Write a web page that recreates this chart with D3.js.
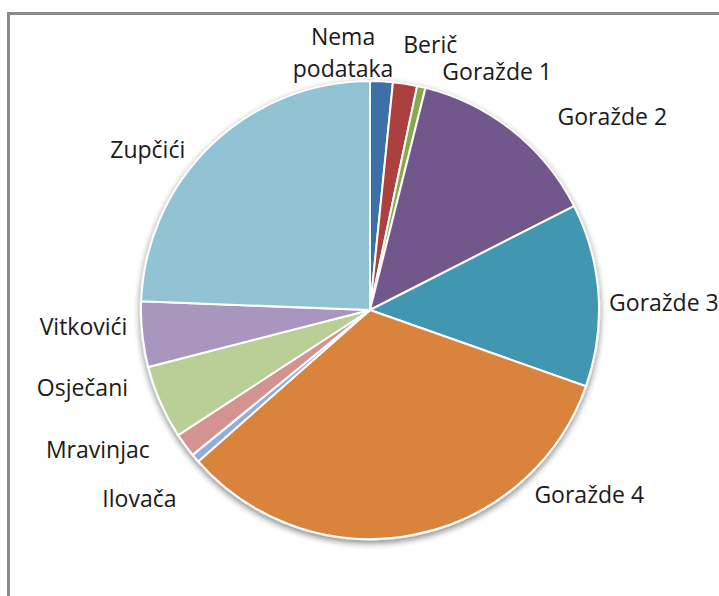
<!DOCTYPE html>
<html>
<head>
<meta charset="utf-8">
<script src="https://cdn.jsdelivr.net/npm/d3@7"></script>
<style>
  html, body { margin: 0; padding: 0; background: #fff; }
  svg { display: block; }
</style>
</head>
<body>
<div id="chart"></div>
<script>
const categories = [
  "Nema podataka", "Berič", "Goražde 1", "Goražde 2", "Goražde 3", "Goražde 4",
  "Ilovača", "Mravinjac", "Osječani", "Vitkovići", "Zupčići"
];
const values = [1.6, 1.7, 0.6, 13.6, 12.9, 33.1, 0.6, 1.7, 5.2, 4.6, 24.4];
const colors = [
  "#3d6fa8", "#ab403e", "#87aa48", "#72578d", "#4197af", "#da833c",
  "#93aedb", "#d39391", "#bacf96", "#a896be", "#92c3d4"
];

// label placement around the pie (degrees clockwise from 12 o'clock, distance from centre)
const labelAngle = [354, 12.8, 28.1, 51.4, 88.6, 130.2, 230.7, 242.8, 254.8, 266.6, 305.8];
const labelDist = [258, 272, 270, 310, 294, 287, 298, 306, 298, 287, 274];

const width = 719;
const height = 596;
const cx = 370;
const cy = 310;
const radius = 229;

const svg = d3.select("#chart")
  .append("svg")
  .attr("width", width)
  .attr("height", height);

// chart frame
svg.append("rect")
  .attr("x", 8.5)
  .attr("y", 13.5)
  .attr("width", width + 20)
  .attr("height", height + 20)
  .attr("fill", "#fff")
  .attr("stroke", "#8a8a8a")
  .attr("stroke-width", 3);

const defs = svg.append("defs");
const shadow = defs.append("filter")
  .attr("id", "pie-shadow")
  .attr("x", "-20%").attr("y", "-20%")
  .attr("width", "140%").attr("height", "140%");
shadow.append("feGaussianBlur")
  .attr("in", "SourceAlpha")
  .attr("stdDeviation", 3);
shadow.append("feOffset").attr("dy", 3).attr("result", "blur");
shadow.append("feComponentTransfer")
  .append("feFuncA").attr("type", "linear").attr("slope", 0.45);
const merge = shadow.append("feMerge");
merge.append("feMergeNode");
merge.append("feMergeNode").attr("in", "SourceGraphic");

const g = svg.append("g")
  .attr("transform", `translate(${cx},${cy})`);

const data = categories.map((c, i) => ({ name: c, value: values[i], color: colors[i] }));

const pie = d3.pie()
  .sort(null)
  .value((d) => d.value);

const arc = d3.arc()
  .innerRadius(0)
  .outerRadius(radius);

g.append("circle")
  .attr("r", radius + 1)
  .attr("fill", "#fff")
  .attr("stroke", "#d8d8d8")
  .attr("stroke-width", 1)
  .attr("filter", "url(#pie-shadow)");

g.selectAll("path.slice")
  .data(pie(data))
  .enter()
  .append("path")
  .attr("class", "slice")
  .attr("d", arc)
  .attr("fill", (d) => d.data.color)
  .attr("stroke", "#fff")
  .attr("stroke-width", 2)
  .attr("stroke-linejoin", "round");

const labels = g.selectAll("text.lbl")
  .data(data)
  .enter()
  .append("text")
  .attr("class", "lbl")
  .attr("text-anchor", "middle")
  .attr("fill", "#1a1a1a")
  .style("font-family", "'Open Sans', sans-serif")
  .style("font-size", "23px")
  .attr("transform", (d, i) => {
    const a = labelAngle[i] * Math.PI / 180;
    const x = Math.sin(a) * labelDist[i];
    const y = -Math.cos(a) * labelDist[i];
    return `translate(${x},${y})`;
  });

labels.each(function (d) {
  const t = d3.select(this);
  const words = d.name === "Nema podataka" ? ["Nema", "podataka"] : [d.name];
  const lineH = 32;
  const start = -((words.length - 1) * lineH) / 2;
  words.forEach((w, k) => {
    t.append("tspan")
      .attr("x", 0)
      .attr("y", start + k * lineH)
      .attr("dy", "0.35em")
      .text(w);
  });
});
</script>
</body>
</html>
